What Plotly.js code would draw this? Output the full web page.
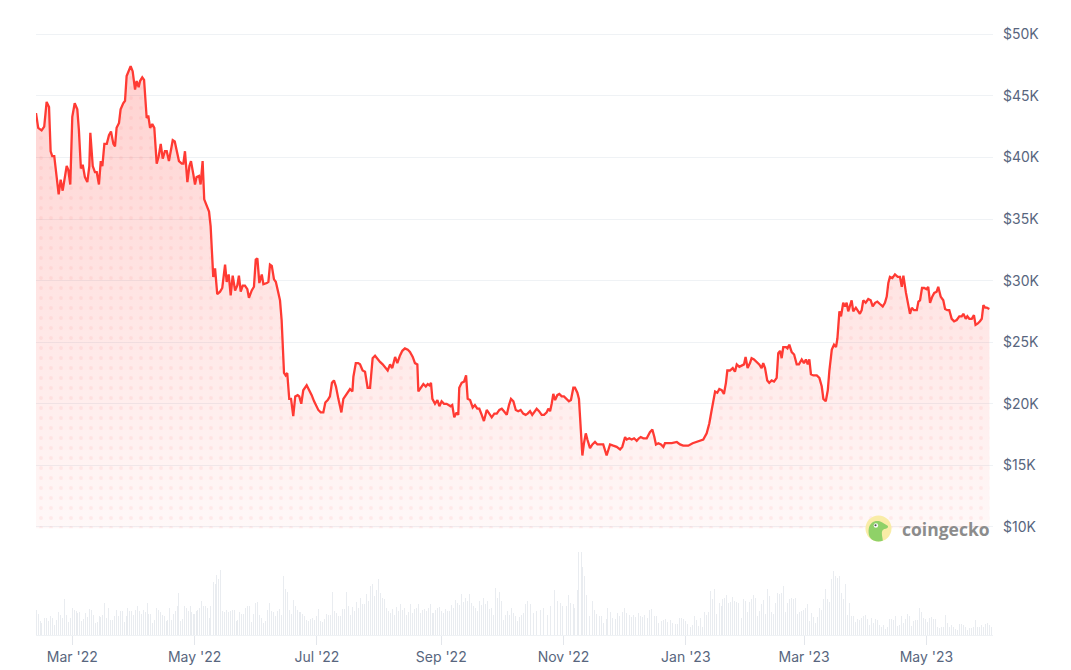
<!DOCTYPE html>
<html><head><meta charset="utf-8">
<script src="https://cdn.plot.ly/plotly-3.0.1.min.js"></script>
<style>html,body{margin:0;padding:0;background:#fff;}#chart{width:1071px;height:670px;}</style>
</head><body><div id="chart"></div>
<script>
// day 0 of the series (fractional days are offsets from here)
const seriesStart = Date.UTC(2022, 1, 10, 21, 36);
const DAY = 86400000;

// Bitcoin price (USD thousands)
const priceDay = [0,1.1,2.8,4.1,5.3,6.5,7.3,8.1,9.1,10.3,11.3,12.3,13.3,15.3,16.1,17.1,18.1,19.3,20.6,21.4,22.4,23.3,24.4,25.6,26.6,27.1,28.3,29.4,30.3,31.4,32.3,33.1,34.1,35.3,36.4,37.4,38.6,39.4,40.2,41.4,42.2,43.5,44.4,45.2,46.4,47.2,48.2,49.4,50.2,51.2,51.9,53.0,53.9,55.2,56.0,56.9,58.0,59.0,60.2,61.2,62.2,63.2,64.3,65.2,66.3,67.3,68.2,69.2,70.2,71.3,72.7,73.5,74.3,75.5,76.5,77.3,78.5,79.3,80.1,81.3,82.1,83.1,83.9,85.1,86.3,87.1,87.9,88.4,89.3,90.4,91.8,92.9,94.3,95.1,96.1,97.1,98.1,99.3,100.4,101.2,102.1,103.1,104.2,105.4,106.2,107.6,108.7,109.6,110.4,111.4,112.6,113.4,115.1,115.9,116.7,117.6,118.7,119.6,120.6,121.7,122.5,123.0,123.7,124.5,125.3,126.3,127.2,128.3,129.3,130.5,131.3,132.3,133.3,135.0,136.3,137.5,138.7,139.7,140.8,142.0,143.3,144.3,145.5,146.6,147.6,148.6,149.6,150.8,152.3,153.3,154.6,155.8,156.6,157.8,158.3,159.5,160.7,161.6,162.9,164.1,165.4,166.6,167.9,169.1,170.4,171.6,172.9,174.1,175.4,176.6,177.7,179.1,180.2,181.5,182.7,184.0,185.4,186.5,187.9,189.0,190.2,190.7,191.9,193.2,194.4,195.4,196.2,197.0,197.7,199.0,200.2,201.2,202.3,203.5,204.8,206.0,206.8,207.6,208.6,209.8,210.6,211.1,212.3,213.5,214.5,215.3,216.5,217.8,218.9,220.1,221.1,222.3,223.4,224.8,226.1,227.3,228.6,229.8,231.1,232.3,233.4,234.8,235.9,236.9,238.1,239.3,240.5,241.7,243.0,244.2,245.2,246.4,247.5,248.9,249.7,250.9,252.2,253.4,254.7,255.5,256.4,257.2,258.0,258.9,260.0,261.0,262.2,263.3,264.7,265.8,266.8,268.0,268.8,270.0,270.8,271.7,272.5,273.3,274.2,275.0,276.3,277.5,278.8,280.0,281.3,282.9,284.6,286.3,287.9,289.6,291.3,292.4,293.8,294.6,295.9,297.1,298.3,299.6,300.7,301.6,302.9,304.6,306.2,307.4,308.4,309.2,310.4,311.7,312.9,313.7,315.4,317.1,319.6,321.2,322.8,325.3,327.5,329.5,331.2,332.8,334.5,335.8,337.0,338.7,339.8,340.8,342.0,343.1,344.1,344.8,346.1,347.5,348.6,349.5,350.8,351.9,353.1,353.9,354.9,356.1,356.9,358.1,359.4,360.7,361.9,362.7,363.6,364.7,365.7,366.9,368.1,369.4,370.2,371.1,371.9,372.7,374.1,374.8,375.7,376.9,378.1,379.4,380.5,381.9,383.0,384.0,384.9,385.7,386.5,387.7,389.4,390.7,391.9,392.7,393.9,394.9,395.7,396.9,398.0,399.0,399.7,400.7,401.5,402.6,403.5,404.3,405.1,406.0,406.8,407.6,408.9,410.1,410.9,411.8,412.6,413.8,415.1,416.3,417.3,418.5,419.6,420.9,422.3,423.4,424.3,425.1,425.9,427.1,428.4,429.8,430.9,431.8,432.6,433.9,435.1,435.9,436.8,437.9,439.3,440.1,440.9,441.9,443.0,444.2,445.0,445.9,447.0,448.0,449.2,450.0,451.2,452.5,453.4,454.5,455.5,456.7,457.9,459.2,460.5,461.7,462.5,463.7,464.5,465.5,466.7,467.8,468.6,469.6,470.8,471.7,472.5,473.4,474.2,475.5];
const priceK = [43.6,42.4,42.2,42.5,44.5,44.1,40.5,40.1,40.1,38.4,37.0,38.2,37.3,39.3,39.0,37.8,43.3,44.4,43.9,42.2,39.1,39.4,38.4,38.0,39.3,42.0,39.3,38.8,38.8,37.8,39.7,39.3,41.1,41.1,41.8,42.1,41.1,40.9,42.4,42.8,43.9,44.4,44.6,46.6,47.0,47.4,47.0,45.5,46.2,45.7,46.2,46.5,46.3,43.2,43.4,42.4,42.7,42.4,39.5,40.1,41.1,39.9,40.5,40.5,39.7,40.6,41.4,41.3,40.5,39.7,39.5,39.5,40.5,38.0,39.3,39.7,38.6,37.8,38.4,38.5,37.8,39.7,36.6,36.1,35.6,34.4,32.2,30.3,31.0,28.9,29.1,29.4,31.3,29.9,30.5,28.8,30.4,29.2,29.6,30.4,29.1,29.6,29.6,29.3,28.6,29.2,29.5,31.7,31.8,29.8,30.5,29.7,29.8,29.9,31.3,31.2,30.1,29.9,29.2,28.4,26.8,24.6,22.5,22.3,22.5,20.4,20.4,19.0,20.6,20.7,20.6,20.0,21.1,21.5,21.1,20.7,20.2,19.9,19.5,19.3,19.3,20.1,20.3,20.6,21.7,21.9,21.4,20.4,19.3,20.4,20.7,21.0,21.2,21.0,22.2,23.3,23.3,23.2,22.7,22.6,21.3,21.3,23.7,23.9,23.6,23.4,23.2,23.0,22.7,23.2,22.9,23.8,23.3,23.9,24.3,24.5,24.4,24.2,23.8,23.3,23.2,21.0,21.3,21.6,21.4,21.6,21.5,21.7,20.4,20.0,20.3,19.8,20.2,20.0,20.0,19.9,19.8,19.9,18.9,19.3,19.1,21.3,21.7,21.8,22.3,20.4,20.3,19.7,19.9,19.6,19.6,19.1,18.6,19.5,19.2,18.9,19.2,19.2,19.5,19.6,19.4,19.1,19.9,20.4,20.2,19.5,19.4,19.5,19.2,19.1,19.2,19.4,19.1,19.4,19.6,19.4,19.1,19.1,19.3,19.6,19.4,20.0,20.8,20.3,20.7,20.8,20.6,20.6,20.4,20.2,20.3,21.3,21.3,20.9,20.4,18.1,15.8,16.8,17.6,17.1,16.4,16.7,16.9,16.7,16.7,16.7,15.8,16.7,16.6,16.5,16.3,16.5,17.3,17.1,17.2,17.1,17.2,17.0,17.2,17.3,17.2,17.2,17.7,17.9,17.3,16.7,16.8,16.7,16.5,16.8,16.8,16.8,16.9,16.7,16.6,16.6,16.8,16.9,17.0,17.1,17.6,18.4,19.5,21.0,20.9,21.2,21.1,20.8,21.7,22.7,22.7,22.9,22.6,23.2,23.0,23.1,23.2,23.8,22.9,23.3,23.7,23.6,23.4,23.2,22.9,23.3,22.9,21.9,21.7,21.9,21.8,22.1,24.1,24.3,23.7,24.6,24.6,24.5,24.8,24.2,24.0,23.2,23.2,23.6,23.3,23.6,23.2,23.6,22.4,22.3,22.3,22.1,21.4,20.4,20.2,21.1,22.7,24.4,24.8,24.6,25.3,27.5,27.1,28.2,27.9,28.2,27.5,28.0,28.4,27.5,27.8,27.5,27.3,27.6,28.4,28.2,28.5,28.4,27.9,28.2,28.3,28.1,27.9,28.2,28.7,29.8,30.3,30.2,30.5,30.3,30.3,29.5,30.4,29.0,28.0,27.3,27.8,27.6,27.6,28.3,28.4,29.4,29.4,29.3,29.5,28.2,28.7,29.0,29.1,29.5,28.7,28.4,27.7,27.6,27.6,26.9,26.7,26.8,27.1,27.1,27.3,26.9,27.1,26.9,26.9,27.2,26.4,26.5,26.7,26.9,28.0,27.8,27.8,27.7];

// Trading volume (USD billions, relative)
const volDay = [0,1.2,2.0,2.8,4.0,5.0,6.2,7.3,8.1,9.1,10.0,11.1,12.3,13.3,14.3,15.3,16.1,17.1,18.1,19.1,20.1,20.9,21.9,22.9,23.9,24.9,25.8,26.8,27.8,28.6,29.6,30.6,31.6,32.4,33.4,34.2,35.2,36.2,37.2,38.1,39.1,39.9,40.9,41.9,42.9,43.9,44.9,45.7,46.7,47.5,48.5,49.5,50.5,51.4,52.4,53.4,54.4,55.4,56.2,57.2,58.2,59.2,60.2,61.0,62.0,63.0,64.0,65.0,65.8,66.8,67.8,68.7,69.7,70.5,71.3,72.3,73.3,74.1,75.1,76.1,77.0,77.8,78.8,79.8,80.6,81.6,82.5,83.5,84.3,85.3,86.3,87.1,88.3,89.3,90.1,91.1,92.1,93.1,94.1,95.1,96.1,96.9,97.9,98.8,99.8,100.7,101.7,102.7,103.7,104.7,105.7,106.7,107.7,108.7,109.6,110.6,111.6,112.4,113.4,114.4,115.4,116.4,117.4,118.4,119.4,120.2,121.2,122.2,123.2,124.2,125.2,126.2,127.2,128.2,129.2,130.2,131.2,132.0,133.0,134.0,135.0,136.0,137.0,138.0,139.0,139.8,141.0,142.0,143.0,144.0,145.0,146.0,147.0,148.0,149.0,150.0,150.9,151.9,152.9,153.9,154.9,155.8,
157,158,159,160,161,162,163,164,165,166,167,168,169,170,171,172,173,174,175,176,177,178,179,180,181,182,183,184,185,186,187,188,189,190,191,192,193,194,195,196,197,198,199,200,201,202,203,204,205,206,207,208,209,210,211,212,213,214,215,216,217,218,219,220,221,222,223,224,225,226,227,228,229,230,231,232,233,234,235,236,237,238,239,240,241,242,243,244,245,
246.4,248.1,249.8,251.6,253.3,255.0,256.7,258.8,260.2,261.5,262.7,264.5,265.7,266.7,267.9,268.8,270.0,270.8,271.9,272.6,273.6,274.8,276.0,277.4,278.6,279.6,280.8,282.0,283.1,284.3,285.1,286.3,287.7,288.9,290.0,291.2,292.4,293.4,294.6,295.8,296.8,298.0,299.2,300.3,301.5,302.7,303.7,304.9,306.1,307.2,308.4,309.6,310.6,311.8,313.0,314.0,315.2,316.5,317.5,318.7,319.9,320.9,
321.7,322.9,323.9,324.9,326.2,327.2,328.3,329.3,330.3,331.3,332.3,333.3,334.3,335.5,336.5,337.5,338.5,339.5,340.7,341.7,342.6,343.6,344.6,345.6,346.6,347.6,348.6,349.6,350.6,351.8,352.8,353.8,354.8,355.8,356.8,357.8,358.8,359.8,360.8,361.8,362.8,363.8,364.8,365.8,366.8,367.8,368.7,369.7,370.7,371.7,372.7,373.7,374.7,375.7,376.7,377.7,378.7,379.7,380.7,381.7,382.7,383.7,384.7,385.7,386.7,387.7,388.7,389.7,390.7,391.7,392.7,393.7,394.7,395.7,396.7,397.7,398.7,399.7,400.7,401.7,402.7,403.7,404.7,405.7,406.7,407.7,408.7,409.6,410.6,411.6,412.6,413.6,414.6,415.6,416.6,417.6,418.6,419.6,420.6,421.6,422.6,423.6,424.6,425.6,426.6,427.6,428.6,429.6,430.6,431.6,432.6,433.6,434.6,435.6,436.6,437.6,438.6,439.6,440.6,441.6,442.6,443.6,444.6,445.6,446.6,447.6,448.6,449.5,450.5,451.5,452.5,453.5,454.5,455.5,456.5,457.5,458.5,459.5,460.5,461.5,462.5,463.5,464.5,465.5,466.5,467.5,468.5,469.5,470.5,471.5,472.5,473.5,474.5,475.5,476.5];
const volB = [37.5,31.5,20,17.5,25,25,20,28.5,25,15,22.5,33.5,30,25,53.5,30,18.5,25,40,37.5,35,32.5,33.5,20,23.5,32.5,26.5,38.5,37.5,30,17.5,18.5,27.5,26.5,30,46.5,25,40,22.5,22.5,28.5,37.5,28.5,35,35,18.5,28.5,40,35,35,30,37.5,43.5,35,31.5,36.5,33.5,46.5,31.5,31.5,17.5,22.5,40,36.5,33.5,30,28.5,20,22.5,40,22.5,31.5,35,42.5,61.5,20,23.5,43.5,40,35,42.5,33.5,31.5,35,37.5,40,50,42.5,42.5,40,25,42.5,78.5,75,88.5,82.5,96.5,35,33.5,36.5,33.5,35,37.5,36.5,20,22.5,33.5,31.5,31.5,40,43.5,42.5,18.5,31.5,46.5,48.5,30,25,17.5,20,37.5,47.5,35,33.5,28.5,35,38.5,30,87.5,68.5,63.5,37.5,31.5,51.5,42.5,37.5,33.5,33.5,31.5,28.5,21.5,20,23.5,25,22.5,27.5,38.5,20,18.5,23.5,31.5,30,30,63.5,35,32.5,27.5,28.5,38.5,38.5,63.5,42.5,
30,42,35,48,40,55,45,45,60,50,72,75,58,66,83,62,55,53,40,36,32,38,30,42,35,45,37,40,30,34,45,33,38,40,45,32,37,38,35,40,45,33,37,40,42,36,32,38,35,35,44,40,52,47,44,60,48,55,50,61,47,43,40,36,50,44,55,46,50,38,40,30,70,55,63,50,22,30,35,30,40,32,28,20,27,30,32,45,50,
45,32.5,35,37.5,40,30,42.5,66.5,50,47.5,42.5,42.5,58.5,47.5,45,40,66.5,122.5,122.5,100,87.5,58.5,28.5,50,36.5,31.5,28.5,27.5,17.5,23.5,40,33.5,25,23.5,32.5,28.5,33.5,40,32.5,30,26.5,30,26.5,32.5,28.5,26.5,30,25,36.5,38.5,28.5,27.5,17.5,20,22.5,23.5,18.5,21.5,17.5,16.5,16.5,25,
25,23.5,20,16.5,11.5,15,27.5,22.5,13.5,25,12.5,33.5,30,33.5,65,52.5,67.5,31.5,46.5,43.5,53.5,55,58.5,47.5,48.5,56.5,50,48.5,47.5,25,52.5,50,33.5,48.5,53.5,58.5,55,27.5,35,45,51.5,31.5,68.5,57.5,33.5,31.5,47.5,61.5,60,61.5,72.5,33.5,46.5,53.5,55,53.5,55,31.5,33.5,35,37.5,40,45,20,32.5,26.5,17.5,26.5,40,36.5,53.5,68.5,52.5,48.5,82.5,95,87.5,83.5,87.5,61.5,53.5,75,30,46.5,28.5,28.5,18.5,23.5,21.5,25,28.5,30,23.5,15,25,17.5,23.5,21.5,15,11.5,15,8.5,12.5,23.5,23.5,22.5,28.5,13.5,15,27.5,17.5,23.5,31.5,27.5,13.5,20,21.5,22.5,40,33.5,25,23.5,18.5,25,26.5,23.5,23.5,11.5,10,12.5,11.5,30,17.5,11.5,15,11.5,8.5,7.5,16.5,16.5,15,11.5,7.5,10,10,11.5,22.5,11.5,11.5,15,11.5,16.5,17.5,15,11.5];

const tickDates = ['2022-03-01','2022-05-01','2022-07-01','2022-09-01','2022-11-01','2023-01-01','2023-03-01','2023-05-01'];
const tickLabels = ["Mar '22","May '22","Jul '22","Sep '22","Nov '22","Jan '23","Mar '23","May '23"];
const priceTicks = [10000,15000,20000,25000,30000,35000,40000,45000,50000];
const priceTickLabels = ['$10K','$15K','$20K','$25K','$30K','$35K','$40K','$45K','$50K'];

const toDate = d => new Date(seriesStart + d * DAY).toISOString().slice(0, 23).replace('T', ' ');
const px = priceDay.map(toDate);
const py = priceK.map(v => v * 1000);
const n = Math.min(volDay.length, volB.length);
const vx = volDay.slice(0, n).map(toDate);
const vy = volB.slice(0, n);

const RED = '#ff3a33';
const FONT = {family: 'Inter, "Noto Sans", sans-serif', size: 14, color: '#58667e'};

const traces = [
  {type: 'bar', x: vx, y: vy, xaxis: 'x', yaxis: 'y2', width: 0.5 * DAY,
   marker: {color: '#e9ecf0', line: {width: 0}}, hoverinfo: 'skip'},
  {type: 'scatter', mode: 'lines', x: px, y: py, xaxis: 'x', yaxis: 'y',
   line: {width: 0}, fill: 'tozeroy',
   fillgradient: {type: 'vertical', start: 10000, stop: 47500,
     colorscale: [[0, 'rgba(255,58,51,0.035)'], [1, 'rgba(255,58,51,0.23)']]},
   hoverinfo: 'skip'},
  {type: 'scatter', mode: 'lines', x: px, y: py, xaxis: 'x', yaxis: 'y',
   line: {width: 0}, fill: 'tozeroy', fillcolor: 'rgba(0,0,0,0)',
   fillpattern: {shape: '.', size: 10, solidity: 0.12, fgcolor: RED, fgopacity: 0.07},
   hoverinfo: 'skip'},
  {type: 'scatter', mode: 'lines', x: px, y: py, xaxis: 'x', yaxis: 'y',
   line: {color: RED, width: 2.3}, hoverinfo: 'skip'}
];

const logoSvg = "<svg xmlns='http://www.w3.org/2000/svg' width='40' height='40' viewBox='0 0 28 28'>" +
  "<circle cx='14' cy='14' r='13.5' fill='#f9eca6'/>" +
  "<path d='M4.5 22 C3 17 3.5 11 7 8.2 C10 5.8 14.5 5.8 17.5 7.6 C19.5 8.8 21.5 9.8 23.5 11.2 C24.5 12.2 23.5 14.2 21.5 14.3 C19.5 14.5 17.8 15.5 17.5 18 C17.3 21 18.3 24 18.5 26.6 C16 27.6 12 27.8 9 26.4 C7 25.4 5.4 24 4.5 22 Z' fill='#8fd168'/>" +
  "<circle cx='11.3' cy='10.8' r='2.3' fill='#ffffff'/><circle cx='10.9' cy='10.6' r='1.1' fill='#4a4a4a'/></svg>";

const TOP = 33, BOT = 35, L = 36, R = 78;
const W = 1071 - L - R, H = 670 - TOP - BOT;
const layout = {
  width: 1071, height: 670,
  margin: {l: L, r: R, t: TOP, b: BOT, pad: 0},
  paper_bgcolor: '#ffffff', plot_bgcolor: 'rgba(0,0,0,0)',
  showlegend: false, bargap: 0,
  font: FONT,
  xaxis: {type: 'date', range: [toDate(0), toDate(477.3)], anchor: 'y2',
    tickmode: 'array', tickvals: tickDates, ticktext: tickLabels,
    ticks: 'outside', ticklen: 9, tickwidth: 1, tickcolor: '#e3e6eb',
    showline: true, linecolor: '#eff2f5', linewidth: 1,
    showgrid: false, zeroline: false, tickfont: FONT, fixedrange: true},
  yaxis: {domain: [(635 - 528.2) / H, 1], range: [9900, 50100], side: 'right', anchor: 'x',
    tickmode: 'array', tickvals: priceTicks, ticktext: priceTickLabels,
    showgrid: true, gridcolor: '#eff2f5', gridwidth: 1, zeroline: false,
    ticks: '', ticklabelstandoff: 9, tickfont: FONT, showline: false, fixedrange: true},
  yaxis2: {domain: [0, 0.17], range: [0, 151], anchor: 'x',
    showgrid: false, zeroline: false, showticklabels: false, ticks: '', showline: false, fixedrange: true},
  images: [{
    source: 'data:image/svg+xml;charset=utf-8,' + encodeURIComponent(logoSvg),
    xref: 'paper', yref: 'paper',
    x: (865 - L) / W, y: (635 - 515) / H,
    sizex: 27 / W, sizey: 27 / H, xanchor: 'left', yanchor: 'top',
    sizing: 'stretch', layer: 'above'
  }],
  annotations: [{
    text: 'coingecko', showarrow: false, xref: 'paper', yref: 'paper',
    x: (900 - L) / W, y: (635 - 529) / H, xanchor: 'left', yanchor: 'middle',
    font: {family: '"Open Sans", Inter, sans-serif', size: 17.5, color: '#8c8c8c', weight: 700}
  }]
};

Plotly.newPlot('chart', traces, layout, {staticPlot: true, displayModeBar: false});
</script></body></html>
